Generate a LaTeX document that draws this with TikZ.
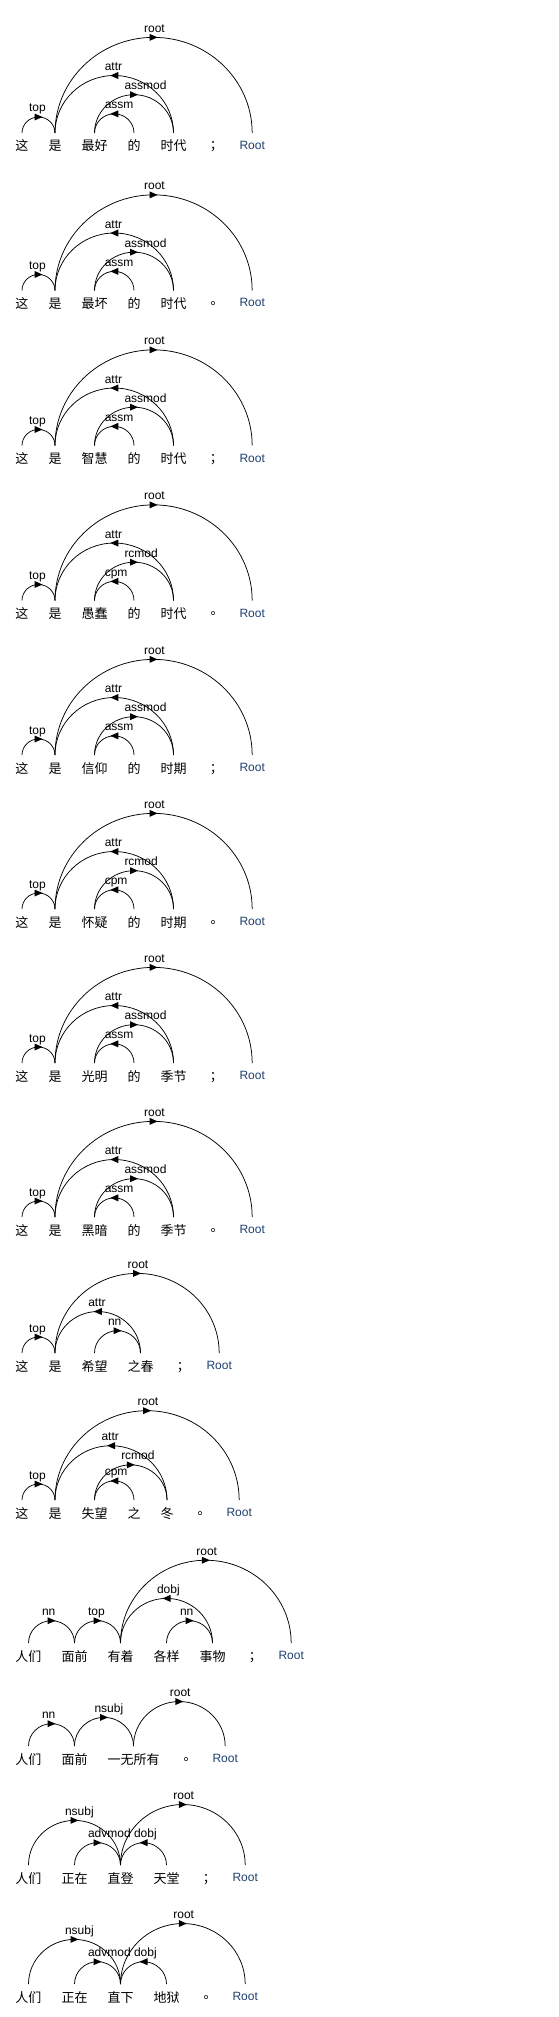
\documentclass[tikz,border=0pt]{standalone}
\usepackage{fontspec}
\newfontfamily\cjk{Noto Sans CJK SC}
\newfontfamily\cjkp{Noto Sans CJK TC}
\newfontfamily\labf{Liberation Sans}
\usetikzlibrary{calc,decorations.markings}
\definecolor{rootblue}{RGB}{31,64,112}
\tikzset{
  wrd/.style={inner sep=0pt, outer sep=0pt, anchor=base west, font=\cjk\fontsize{13}{13}\selectfont},
  rootw/.style={wrd, text=rootblue, font=\labf\fontsize{12}{12}\selectfont},
  lbl/.style={inner sep=0pt, outer sep=0pt, anchor=base west, font=\labf\fontsize{12}{12}\selectfont},
  arcln/.style={line width=0.75pt, black},
}
\newcommand\trir{\fill (4pt,0pt) -- (-4pt,3.5pt) -- (-4pt,-3.5pt) -- cycle;}
\newcommand\tril{\fill (-4pt,0pt) -- (4pt,3.5pt) -- (4pt,-3.5pt) -- cycle;}
\newcommand\fw[3]{\node[wrd] (#1) at (15.5pt,#2) {#3};}
\newcommand\nw[3]{\node[wrd] (#1) at ([xshift=20pt]#2.base east) {#3};}
\newcommand\rw[2]{\node[rootw] (#1) at ([xshift=20pt]#2.base east) {\raisebox{1.5pt}{Root}};}
\newcommand\dep[4]{%
  \draw[arcln, postaction={decorate}, decoration={markings, mark=at position 0.5 with {#4}}]
    let \p1=([yshift=18pt]#1.base), \p2=([yshift=18pt]#2.base), \n1={0.5*(\x2-\x1)} in
    (\p1) arc[start angle=180, end angle=0, x radius=\n1, y radius=0.97*\n1]
    node[lbl] at (\x1+\n1-9.5pt, \y1+0.97*\n1+5pt) {#3};}
% template: 这 是 X 的 Y punct Root
\newcommand\sentA[7]{%
  \fw{#1-1}{#2}{这}
  \nw{#1-2}{#1-1}{是}
  \nw{#1-3}{#1-2}{#3}
  \nw{#1-4}{#1-3}{的}
  \nw{#1-5}{#1-4}{#4}
  \nw{#1-6}{#1-5}{\cjkp #5}
  \rw{#1-7}{#1-6}
  \dep{#1-1}{#1-2}{top}{\trir}
  \dep{#1-2}{#1-5}{attr}{\tril}
  \dep{#1-3}{#1-5}{#6}{\trir}
  \dep{#1-3}{#1-4}{#7}{\tril}
  \dep{#1-2}{#1-7}{root}{\trir}}
\begin{document}
\begin{tikzpicture}
\fill[white] (0,0) rectangle (559pt,-2017pt);
\useasboundingbox (0,0) rectangle (559pt,-2017pt);
\sentA{A}{-151pt}{最好}{时代}{；}{assmod}{assm}
\sentA{B}{-308.5pt}{最坏}{时代}{。}{assmod}{assm}
\sentA{C}{-463.5pt}{智慧}{时代}{；}{assmod}{assm}
\sentA{D}{-618.5pt}{愚蠢}{时代}{。}{rcmod}{cpm}
\sentA{E}{-773pt}{信仰}{时期}{；}{assmod}{assm}
\sentA{F}{-927pt}{怀疑}{时期}{。}{rcmod}{cpm}
\sentA{G}{-1081pt}{光明}{季节}{；}{assmod}{assm}
\sentA{H}{-1235pt}{黑暗}{季节}{。}{assmod}{assm}
% diagram 9
\fw{I-1}{-1371pt}{这}
\nw{I-2}{I-1}{是}
\nw{I-3}{I-2}{希望}
\nw{I-4}{I-3}{之春}
\nw{I-5}{I-4}{\cjkp ；}
\rw{I-6}{I-5}
\dep{I-1}{I-2}{top}{\trir}
\dep{I-2}{I-4}{attr}{\tril}
\dep{I-3}{I-4}{nn}{\trir}
\dep{I-2}{I-6}{root}{\trir}
% diagram 10
\fw{J-1}{-1518pt}{这}
\nw{J-2}{J-1}{是}
\nw{J-3}{J-2}{失望}
\nw{J-4}{J-3}{之}
\nw{J-5}{J-4}{冬}
\nw{J-6}{J-5}{\cjkp 。}
\rw{J-7}{J-6}
\dep{J-1}{J-2}{top}{\trir}
\dep{J-2}{J-5}{attr}{\tril}
\dep{J-3}{J-5}{rcmod}{\trir}
\dep{J-3}{J-4}{cpm}{\tril}
\dep{J-2}{J-7}{root}{\trir}
% diagram 11
\fw{K-1}{-1661pt}{人们}
\nw{K-2}{K-1}{面前}
\nw{K-3}{K-2}{有着}
\nw{K-4}{K-3}{各样}
\nw{K-5}{K-4}{事物}
\nw{K-6}{K-5}{\cjkp ；}
\rw{K-7}{K-6}
\dep{K-1}{K-2}{nn}{\trir}
\dep{K-2}{K-3}{top}{\trir}
\dep{K-3}{K-5}{dobj}{\tril}
\dep{K-4}{K-5}{nn}{\trir}
\dep{K-3}{K-7}{root}{\trir}
% diagram 12
\fw{L-1}{-1764pt}{人们}
\nw{L-2}{L-1}{面前}
\nw{L-3}{L-2}{一无所有}
\nw{L-4}{L-3}{\cjkp 。}
\rw{L-5}{L-4}
\dep{L-1}{L-2}{nn}{\trir}
\dep{L-2}{L-3}{nsubj}{\trir}
\dep{L-3}{L-5}{root}{\trir}
% diagram 13
\fw{M-1}{-1883pt}{人们}
\nw{M-2}{M-1}{正在}
\nw{M-3}{M-2}{直登}
\nw{M-4}{M-3}{天堂}
\nw{M-5}{M-4}{\cjkp ；}
\rw{M-6}{M-5}
\dep{M-1}{M-3}{nsubj}{\trir}
\dep{M-2}{M-3}{advmod}{\trir}
\dep{M-3}{M-4}{dobj}{\tril}
\dep{M-3}{M-6}{root}{\trir}
% diagram 14
\fw{N-1}{-2002pt}{人们}
\nw{N-2}{N-1}{正在}
\nw{N-3}{N-2}{直下}
\nw{N-4}{N-3}{地狱}
\nw{N-5}{N-4}{\cjkp 。}
\rw{N-6}{N-5}
\dep{N-1}{N-3}{nsubj}{\trir}
\dep{N-2}{N-3}{advmod}{\trir}
\dep{N-3}{N-4}{dobj}{\tril}
\dep{N-3}{N-6}{root}{\trir}
\end{tikzpicture}
\end{document}
